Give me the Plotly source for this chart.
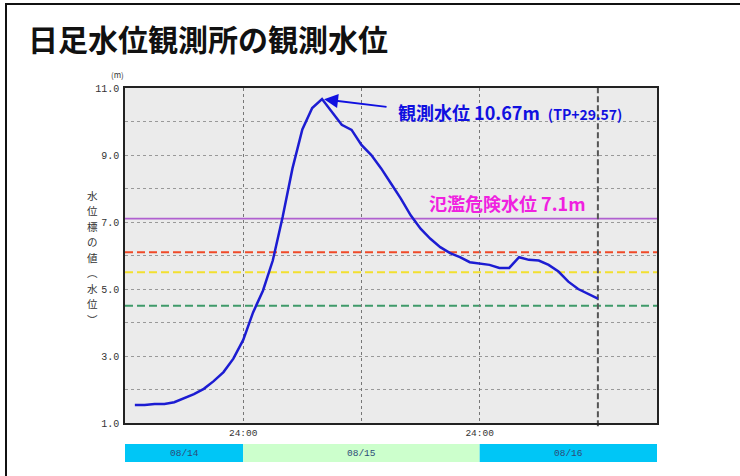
import plotly.graph_objects as go

# ---- data ----
# hours counted from 08/14 00:00
hours = list(range(13, 61))
water_level = [1.54, 1.54, 1.57, 1.57, 1.62, 1.74, 1.86, 2.02, 2.25, 2.52, 2.92, 3.48,
               4.30, 4.95, 5.85, 7.15, 8.60, 9.76, 10.40, 10.67, 10.30, 9.90, 9.75, 9.30,
               9.00, 8.60, 8.15, 7.70, 7.20, 6.80, 6.50, 6.25, 6.07, 5.95, 5.80, 5.76,
               5.72, 5.63, 5.63, 5.95, 5.87, 5.85, 5.72, 5.52, 5.22, 5.00, 4.85, 4.71]

peak_hour = 32
peak_value = 10.67
peak_tp = 29.57
danger_level = 7.1

threshold_levels = [7.1, 6.1, 5.5, 4.5]
threshold_colors = ["#b060d0", "#f04a28", "#f2e030", "#3f9a6a"]
threshold_dash = ["solid", "8px,4px", "8px,4px", "8px,4px"]

day_labels = ["08/14", "08/15", "08/16"]
day_start = [12, 24, 48]
day_end = [24, 48, 66]
day_colors = ["#00c6f6", "#ccffcc", "#00c6f6"]

x_range = [12, 66]
y_range = [1.0, 11.0]
y_ticks = [1.0, 3.0, 5.0, 7.0, 9.0, 11.0]
x_grid_hours = [24, 36, 48]
x_tick_text = ["24:00", "", "24:00"]
now_hour = 60

title_text = "日足水位観測所の観測水位"
y_title_chars = ["水", "位", "標", "の", "値", "︵", "水", "位", "︶"]

JP = "Noto Sans CJK JP"
MONO = "Liberation Mono"

# layout geometry (pixels)
W, H = 740, 476
L, R, T, B = 125, 657, 88, 423
PW, PH = R - L, B - T


def px_x(p):
    return (p - L) / PW


def px_y(p):
    return (B - p) / PH


fig = go.Figure()

fig.add_trace(go.Scatter(
    x=hours, y=water_level, mode="lines",
    line=dict(color="#1c1cd2", width=2.5),
    hoverinfo="skip", showlegend=False,
))

# threshold lines
for lv, c, d in zip(threshold_levels, threshold_colors, threshold_dash):
    fig.add_shape(type="line", xref="paper", yref="y", x0=0, x1=1, y0=lv, y1=lv,
                  line=dict(color=c, width=2 if d != "solid" else 1.6, dash=d),
                  layer="between")

# current time dashed vertical
fig.add_shape(type="line", xref="x", yref="paper", x0=now_hour, x1=now_hour,
              y0=-0.01, y1=1.01, line=dict(color="#555555", width=2, dash="6px,3px"),
              layer="between")

# date bars
for lab, s, e, c in zip(day_labels, day_start, day_end, day_colors):
    fig.add_shape(type="rect", xref="x", yref="paper", x0=s, x1=e,
                  y0=px_y(462), y1=px_y(444), fillcolor=c, line=dict(width=0))
    fig.add_annotation(x=(s + e) / 2, y=px_y(453), xref="x", yref="paper",
                       xanchor="center", yanchor="middle",
                       text=lab, showarrow=False,
                       font=dict(family=MONO, size=9.5, color="#2c4c78"))

# outer frame (left & top)
fig.add_shape(type="path", xref="paper", yref="paper",
              path=f"M {px_x(6)} {px_y(490)} L {px_x(6)} {px_y(4)} L {px_x(760)} {px_y(4)}",
              line=dict(color="#111111", width=2))

# title
fig.add_annotation(x=px_x(26), y=px_y(38), xref="paper", yref="paper",
                   xanchor="left", yanchor="middle", showarrow=False,
                   text=f"<b>{title_text}</b>",
                   font=dict(family=JP, size=30, color="#111111"))

# unit label
fig.add_annotation(x=px_x(117), y=px_y(74), xref="paper", yref="paper",
                   xanchor="center", yanchor="middle",
                   showarrow=False, text="(m)",
                   font=dict(family=JP, size=8, color="#333333"))

# vertical y-axis title (stacked characters)
n = len(y_title_chars)
step = 15.5
top_center = 257 - step * (n - 1) / 2
for i, ch in enumerate(y_title_chars):
    fig.add_annotation(x=px_x(92), y=px_y(top_center + i * step),
                       xref="paper", yref="paper",
                       xanchor="center", yanchor="middle",
                       showarrow=False, text=ch,
                       font=dict(family=JP, size=10.5, color="#333333"))

# peak arrow
fig.add_annotation(x=peak_hour, y=peak_value, xref="x", yref="y",
                   ax=66, ay=8, text="", showarrow=True,
                   arrowhead=2, arrowsize=1.4, arrowwidth=2, arrowcolor="#1010e0",
                   standoff=2)
fig.add_annotation(x=px_x(396), y=px_y(112), xref="paper", yref="paper",
                   xanchor="left", yanchor="middle", showarrow=False,
                   text=(f"<b>観測水位 {peak_value:.2f}m</b>"
                         f"  <span style='font-size:14px'><b>(TP+{peak_tp:.2f})</b></span>"),
                   font=dict(family=JP, size=18, color="#1010e0"))

# danger level label
fig.add_annotation(x=px_x(427), y=px_y(203), xref="paper", yref="paper",
                   xanchor="left", yanchor="middle", showarrow=False,
                   text=f"<b>氾濫危険水位 {danger_level}m</b>",
                   font=dict(family=JP, size=18, color="#f020e0"))

fig.update_layout(
    width=W, height=H,
    margin=dict(l=L, r=W - R, t=T, b=H - B),
    paper_bgcolor="white", plot_bgcolor="#ebebeb",
    showlegend=False,
    xaxis=dict(range=x_range, tickvals=x_grid_hours, ticktext=x_tick_text,
               showgrid=True, gridcolor="#777777", griddash="dot", gridwidth=1,
               showline=True, linecolor="#222222", linewidth=1.5, mirror=True,
               ticks="", tickfont=dict(family=MONO, size=9.5, color="#333333"),
               zeroline=False, fixedrange=True),
    yaxis=dict(range=y_range, tickvals=y_ticks,
               ticktext=[f"{v:.1f}" for v in y_ticks],
               showgrid=True, gridcolor="#999999", griddash="dot", gridwidth=1,
               minor=dict(dtick=1, showgrid=True, gridcolor="#999999",
                          griddash="dot", gridwidth=1),
               showline=True, linecolor="#222222", linewidth=1.5, mirror=True,
               ticks="", ticklabelstandoff=2,
               tickfont=dict(family=MONO, size=10, color="#333333"),
               zeroline=False, fixedrange=True),
)

fig.write_html("out.html", config={"displayModeBar": False},
               post_script="document.body.style.margin='0';document.body.style.overflow='hidden';")
